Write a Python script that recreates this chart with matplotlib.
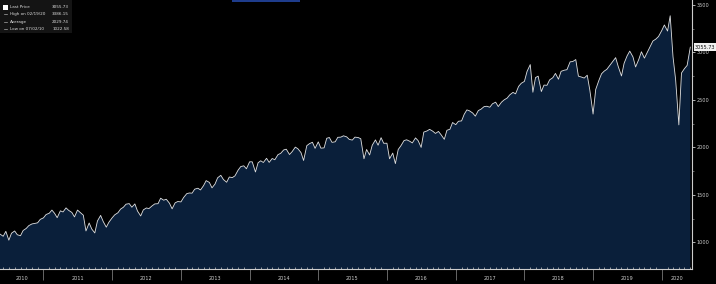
import numpy as np
import pandas as pd
import matplotlib
matplotlib.use("Agg")
import matplotlib.pyplot as plt
import matplotlib.dates as mdates
from matplotlib.patches import Rectangle
from matplotlib.transforms import blended_transform_factory

# S&P 500, valores semi-mensuales (dia 1 y 15 de cada mes)
start = "2010-05-15"
prices_2010 = [1087, 1064, 1116, 1023, 1096, 1120, 1080, 1070, 1125, 1146, 1176, 1194, 1199, 1206, 1242]
prices_2011 = [1258, 1293, 1307, 1340, 1306, 1260, 1332, 1320, 1363, 1337, 1315, 1268,
               1340, 1316, 1286, 1120, 1204, 1140, 1099, 1225, 1284, 1218, 1160, 1212]
prices_2012 = [1258, 1290, 1312, 1350, 1370, 1402, 1408, 1370, 1405, 1330, 1278, 1342,
               1362, 1356, 1385, 1405, 1407, 1465, 1444, 1454, 1412, 1353, 1416, 1430]
prices_2013 = [1426, 1472, 1513, 1520, 1518, 1560, 1570, 1552, 1597, 1650, 1631, 1574,
               1614, 1680, 1706, 1661, 1633, 1688, 1682, 1700, 1761, 1798, 1806, 1775]
prices_2014 = [1848, 1848, 1741, 1838, 1859, 1841, 1885, 1842, 1883, 1870, 1924, 1937,
               1973, 1981, 1925, 1955, 2003, 1985, 1946, 1862, 2018, 2039, 2054, 1990]
prices_2015 = [2058, 1992, 1995, 2096, 2104, 2053, 2059, 2106, 2108, 2122, 2111, 2084,
               2077, 2108, 2104, 2091, 1880, 1978, 1920, 2023, 2079, 2023, 2102, 2043]
prices_2016 = [2044, 1880, 1940, 1829, 1978, 2016, 2072, 2080, 2065, 2047, 2100, 2071,
               2000, 2161, 2173, 2190, 2170, 2147, 2168, 2133, 2085, 2180, 2191, 2262]
prices_2017 = [2239, 2275, 2279, 2349, 2395, 2385, 2362, 2329, 2388, 2402, 2430, 2433,
               2423, 2459, 2476, 2430, 2476, 2500, 2519, 2553, 2579, 2564, 2642, 2675]
prices_2018 = [2695, 2800, 2872, 2581, 2735, 2750, 2588, 2656, 2654, 2711, 2734, 2779,
               2718, 2801, 2813, 2818, 2901, 2904, 2925, 2750, 2740, 2730, 2760, 2600]
prices_2019 = [2351, 2610, 2706, 2775, 2803, 2822, 2867, 2905, 2945, 2850, 2752, 2886,
               2964, 3014, 2953, 2847, 2926, 3007, 2940, 2996, 3066, 3120, 3141, 3168]
prices_2020 = [3230, 3289, 3225, 3386, 2954, 2711, 2237, 2783, 2830, 2863, 3055.73]

years = ["2010", "2011", "2012", "2013", "2014", "2015", "2016", "2017", "2018", "2019", "2020"]
legend_labels = ["Last Price", "High on 02/19/20", "Average", "Low on 07/02/10"]
legend_values = ["3055.73", "3386.15", "2029.74", "1022.58"]
last_price = 3055.73

prices = (prices_2010 + prices_2011 + prices_2012 + prices_2013 + prices_2014 + prices_2015
          + prices_2016 + prices_2017 + prices_2018 + prices_2019 + prices_2020)
dates = pd.date_range(start, periods=len(prices), freq="SMS")

fig = plt.figure(figsize=(7.16, 2.84), dpi=100, facecolor="black")
ax = fig.add_axes([0, 0.053, 0.9665, 0.947], facecolor="black")

ax.fill_between(dates, prices, 0, color="#0a1f3a", lw=0)
ax.plot(dates, prices, color="#e0e0e0", lw=0.6)

ax.set_xlim(pd.Timestamp("2010-05-15"), pd.Timestamp("2020-06-10"))
ax.set_ylim(720, 3552)

for s in ["left", "top"]:
    ax.spines[s].set_visible(False)
ax.spines["right"].set_color("#cccccc")
ax.spines["bottom"].set_color("#cccccc")
ax.spines["right"].set_linewidth(0.8)
ax.spines["bottom"].set_linewidth(0.8)

# eje y a la derecha
ax.yaxis.tick_right()
ax.set_yticks([1000, 1500, 2000, 2500, 3000, 3500])
ax.set_yticks([1250, 1750, 2250, 2750, 3250], minor=True)
ax.tick_params(axis="y", which="major", colors="#cccccc", labelsize=3.6, length=2.5, width=0.6, pad=1)
ax.tick_params(axis="y", which="minor", colors="#888888", length=1.5, width=0.5)

# eje x: separadores de años, marcas mensuales
ax.xaxis.set_major_locator(mdates.YearLocator())
ax.xaxis.set_minor_locator(mdates.MonthLocator())
ax.xaxis.set_major_formatter(plt.NullFormatter())
ax.tick_params(axis="x", which="major", colors="#777777", length=8, width=0.6, direction="out")
ax.tick_params(axis="x", which="minor", colors="#cccccc", length=1.5, width=0.5, direction="in")

trans = blended_transform_factory(ax.transData, fig.transFigure)
for y in years:
    mid = pd.Timestamp(y + "-07-01")
    if y == "2010":
        mid = pd.Timestamp("2010-09-10")
    if y == "2020":
        mid = pd.Timestamp("2020-03-20")
    ax.text(mid, 0.018, y, transform=trans, color="#cccccc", fontsize=3.6,
            ha="center", va="center", clip_on=False)

# etiqueta del último precio
ax.annotate(f"{last_price:.2f}", xy=(1.0, last_price), xycoords=("axes fraction", "data"),
            xytext=(2, 0), textcoords="offset points", fontsize=3.6, color="#111111",
            va="center", ha="left", annotation_clip=False,
            bbox=dict(boxstyle="square,pad=0.25", fc="#f0f0f0", ec="none"))

# leyenda
fig.patches.append(Rectangle((0, 1 - 33 / 284), 72 / 716, 33 / 284, transform=fig.transFigure,
                             facecolor="#141414", edgecolor="none", zorder=5))
fig.patches.append(Rectangle((3 / 716, 1 - 10 / 284), 5 / 716, 5 / 284, transform=fig.transFigure,
                             facecolor="white", edgecolor="none", zorder=6))
for i, (lab, val) in enumerate(zip(legend_labels, legend_values)):
    yy = 1 - (7 + i * 7.3) / 284
    fig.text(10 / 716, yy, lab, color="#dddddd", fontsize=3.0, va="center", ha="left", zorder=7)
    fig.text(69 / 716, yy, val, color="#dddddd", fontsize=3.0, va="center", ha="right", zorder=7)
    if i > 0:
        fig.lines.append(plt.Line2D([4 / 716, 7 / 716], [yy, yy], transform=fig.transFigure,
                                    color="#aaaaaa", lw=0.5, zorder=7))

# barra azul superior
fig.patches.append(Rectangle((232 / 716, 1 - 1.5 / 284), 68 / 716, 1.5 / 284, transform=fig.transFigure,
                             facecolor="#1e3c8c", edgecolor="none", zorder=6))

fig.savefig("out.png", dpi=100, facecolor="black")
